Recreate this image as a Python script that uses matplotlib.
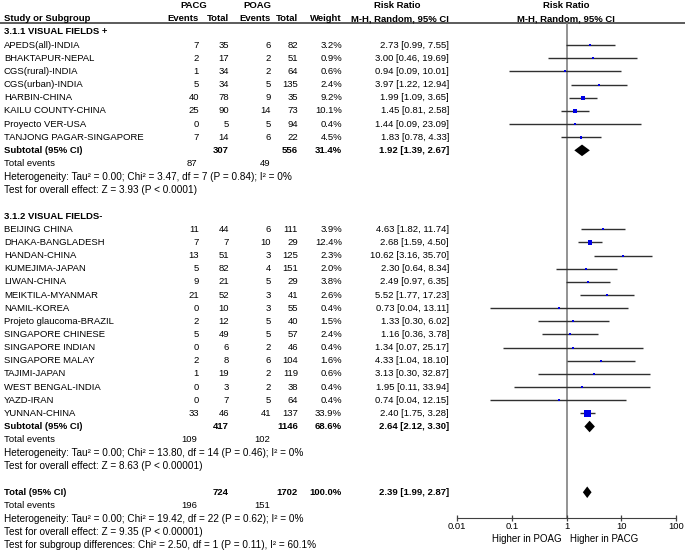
import numpy as np
import matplotlib.pyplot as plt
from matplotlib.ticker import FixedLocator, FixedFormatter

plt.rcParams['font.family'] = ['Liberation Sans', 'DejaVu Sans']
plt.rcParams['font.size'] = 6.8

# subgroup 3.1.1 VISUAL FIELDS +
names1 = ["APEDS(all)-INDIA", "BHAKTAPUR-NEPAL", "CGS(rural)-INDIA", "CGS(urban)-INDIA",
          "HARBIN-CHINA", "KAILU COUNTY-CHINA", "Proyecto VER-USA", "TANJONG PAGAR-SINGAPORE"]
pacg_ev1 = [7, 2, 1, 5, 40, 25, 0, 7]
pacg_n1 = [35, 17, 34, 34, 78, 90, 5, 14]
poag_ev1 = [6, 2, 2, 5, 9, 14, 5, 6]
poag_n1 = [82, 51, 64, 135, 35, 73, 94, 22]
weight1 = [3.2, 0.9, 0.6, 2.4, 9.2, 10.1, 0.4, 4.5]
rr1 = [2.73, 3.00, 0.94, 3.97, 1.99, 1.45, 1.44, 1.83]
lo1 = [0.99, 0.46, 0.09, 1.22, 1.09, 0.81, 0.09, 0.78]
hi1 = [7.55, 19.69, 10.01, 12.94, 3.65, 2.58, 23.09, 4.33]

# subgroup 3.1.2 VISUAL FIELDS-
names2 = ["BEIJING CHINA", "DHAKA-BANGLADESH", "HANDAN-CHINA", "KUMEJIMA-JAPAN", "LIWAN-CHINA",
          "MEIKTILA-MYANMAR", "NAMIL-KOREA", "Projeto glaucoma-BRAZIL", "SINGAPORE CHINESE",
          "SINGAPORE INDIAN", "SINGAPORE MALAY", "TAJIMI-JAPAN", "WEST BENGAL-INDIA",
          "YAZD-IRAN", "YUNNAN-CHINA"]
pacg_ev2 = [11, 7, 13, 5, 9, 21, 0, 2, 5, 0, 2, 1, 0, 0, 33]
pacg_n2 = [44, 7, 51, 82, 21, 52, 10, 12, 49, 6, 8, 19, 3, 7, 46]
poag_ev2 = [6, 10, 3, 4, 5, 3, 3, 5, 5, 2, 6, 2, 2, 5, 41]
poag_n2 = [111, 29, 125, 151, 29, 41, 55, 40, 57, 46, 104, 119, 38, 64, 137]
weight2 = [3.9, 12.4, 2.3, 2.0, 3.8, 2.6, 0.4, 1.5, 2.4, 0.4, 1.6, 0.6, 0.4, 0.4, 33.9]
rr2 = [4.63, 2.68, 10.62, 2.30, 2.49, 5.52, 0.73, 1.33, 1.16, 1.34, 4.33, 3.13, 1.95, 0.74, 2.40]
lo2 = [1.82, 1.59, 3.16, 0.64, 0.97, 1.77, 0.04, 0.30, 0.36, 0.07, 1.04, 0.30, 0.11, 0.04, 1.75]
hi2 = [11.74, 4.50, 35.70, 8.34, 6.35, 17.23, 13.11, 6.02, 3.78, 25.17, 18.10, 32.87, 33.94, 12.15, 3.28]

# subtotals / total: (pacg total, poag total, weight, rr, lo, hi, pacg events, poag events)
sub1 = (307, 556, 31.4, 1.92, 1.39, 2.67, 87, 49)
sub2 = (417, 1146, 68.6, 2.64, 2.12, 3.30, 109, 102)
total = (724, 1702, 100.0, 2.39, 1.99, 2.87, 196, 151)

het1 = ["Heterogeneity: Tau\u00b2 = 0.00; Chi\u00b2 = 3.47, df = 7 (P = 0.84); I\u00b2 = 0%",
        "Test for overall effect: Z = 3.93 (P < 0.0001)"]
het2 = ["Heterogeneity: Tau\u00b2 = 0.00; Chi\u00b2 = 13.80, df = 14 (P = 0.46); I\u00b2 = 0%",
        "Test for overall effect: Z = 8.63 (P < 0.00001)"]
het_tot = ["Heterogeneity: Tau\u00b2 = 0.00; Chi\u00b2 = 19.42, df = 22 (P = 0.62); I\u00b2 = 0%",
           "Test for overall effect: Z = 9.35 (P < 0.00001)",
           "Test for subgroup differences: Chi\u00b2 = 2.50, df = 1 (P = 0.11), I\u00b2 = 60.1%"]

xticks = [0.01, 0.1, 1, 10, 100]
xticklabels = ["0.01", "0.1", "1", "10", "100"]

W, H = 685, 551
ROW_H = 13.15
ROW0 = 5.7
AXIS_Y = 518
NOTE_SIZE = 7.2

fig = plt.figure(figsize=(W / 100, H / 100), dpi=100)
ax = fig.add_axes([0, 0, 1, 1])
ax.set_xlim(0, W)
ax.set_ylim((H - ROW0) / ROW_H, -ROW0 / ROW_H)
ax.axis('off')

fx0, fx1 = 457, 676
axf = fig.add_axes([fx0 / W, (H - AXIS_Y) / H, (fx1 - fx0) / W, AXIS_Y / H])
axf.set_xscale('log')
axf.set_xlim(0.01, 100)
axf.set_ylim((AXIS_Y - ROW0) / ROW_H, -ROW0 / ROW_H)
axf.patch.set_alpha(0)
for s in ['top', 'left', 'right']:
    axf.spines[s].set_visible(False)
axf.spines['bottom'].set_color('#404040')
axf.set_yticks([])
axf.xaxis.set_major_locator(FixedLocator(xticks))
axf.xaxis.set_major_formatter(FixedFormatter(xticklabels))
axf.xaxis.set_minor_locator(FixedLocator([]))
axf.tick_params(axis='x', direction='inout', length=5, width=0.9, color='#404040',
                pad=0.5, labelsize=6.8)

# column right edges
X_NAME = 4
X_EV1, X_N1, X_EV2, X_N2, X_W, X_RR = 199, 229, 271, 298, 342, 449

# headers
ax.text(194, 0, "PACG", ha='center', va='center', fontweight='bold')
ax.text(257, 0, "POAG", ha='center', va='center', fontweight='bold')
ax.text(397, 0, "Risk Ratio", ha='center', va='center', fontweight='bold')
ax.text(566, 0, "Risk Ratio", ha='center', va='center', fontweight='bold')
ax.text(X_NAME, 1, "Study or Subgroup", ha='left', va='center', fontweight='bold')
for x, t in [(X_EV1, "Events"), (X_N1, "Total"), (X_EV2, "Events"), (X_N2, "Total"),
             (X_W, "Weight"), (X_RR, "M-H, Random, 95% CI")]:
    ax.text(x, 1, t, ha='right', va='center', fontweight='bold')
ax.text(566, 1, "M-H, Random, 95% CI", ha='center', va='center', fontweight='bold')
ax.axhline((23 - ROW0) / ROW_H, color='#404040', lw=1.2)


def study_rows(start, names, e1, n1, e2, n2, w, rr, lo, hi):
    rows = np.arange(start, start + len(names))
    for r, nm, a, b, c, d, ww, m, l, h in zip(rows, names, e1, n1, e2, n2, w, rr, lo, hi):
        ax.text(X_NAME, r, nm, ha='left', va='center')
        ax.text(X_EV1, r, str(a), ha='right', va='center')
        ax.text(X_N1, r, str(b), ha='right', va='center')
        ax.text(X_EV2, r, str(c), ha='right', va='center')
        ax.text(X_N2, r, str(d), ha='right', va='center')
        ax.text(X_W, r, f"{ww:.1f}%", ha='right', va='center')
        ax.text(X_RR, r, f"{m:.2f} [{l:.2f}, {h:.2f}]", ha='right', va='center')
    axf.hlines(rows, lo, hi, color='#303030', lw=1.0, zorder=2)
    sizes = np.maximum(0.9 * np.sqrt(np.array(w)), 1.4) ** 2
    axf.scatter(rr, rows, marker='s', s=sizes, color='#0000e6', linewidths=0, zorder=3)
    return rows[-1] + 1


def summary_row(r, label, vals):
    n1, n2, w, m, l, h, e1, e2 = vals
    ax.text(X_NAME, r, label, ha='left', va='center', fontweight='bold')
    ax.text(X_N1, r, str(n1), ha='right', va='center', fontweight='bold')
    ax.text(X_N2, r, str(n2), ha='right', va='center', fontweight='bold')
    ax.text(X_W, r, f"{w:.1f}%", ha='right', va='center', fontweight='bold')
    ax.text(X_RR, r, f"{m:.2f} [{l:.2f}, {h:.2f}]", ha='right', va='center', fontweight='bold')
    dh = 0.44
    axf.fill([l, m, h, m], [r, r - dh, r, r + dh], color='black', lw=0, zorder=3)
    ax.text(X_NAME, r + 1, "Total events", ha='left', va='center')
    ax.text(X_EV1 - 2, r + 1, str(e1), ha='right', va='center')
    ax.text(X_EV2 - 1, r + 1, str(e2), ha='right', va='center')


r = 2
ax.text(X_NAME, r, "3.1.1 VISUAL FIELDS +", ha='left', va='center', fontweight='bold')
r = study_rows(r + 1, names1, pacg_ev1, pacg_n1, poag_ev1, poag_n1, weight1, rr1, lo1, hi1)
summary_row(r, "Subtotal (95% CI)", sub1)
for i, t in enumerate(het1):
    ax.text(X_NAME, r + 2 + i, t, ha='left', va='center', fontsize=NOTE_SIZE)
r += 2 + len(het1) + 1

ax.text(X_NAME, r, "3.1.2 VISUAL FIELDS-", ha='left', va='center', fontweight='bold')
r = study_rows(r + 1, names2, pacg_ev2, pacg_n2, poag_ev2, poag_n2, weight2, rr2, lo2, hi2)
summary_row(r, "Subtotal (95% CI)", sub2)
for i, t in enumerate(het2):
    ax.text(X_NAME, r + 2 + i, t, ha='left', va='center', fontsize=NOTE_SIZE)
r += 2 + len(het2) + 1

summary_row(r, "Total (95% CI)", total)
for i, t in enumerate(het_tot):
    ax.text(X_NAME, r + 2 + i, t, ha='left', va='center', fontsize=NOTE_SIZE)

# line of no effect
axf.vlines(1, (23 - ROW0) / ROW_H, (AXIS_Y - ROW0) / ROW_H, color='#808080', lw=1.2, zorder=1)

ylab = (539.5 - ROW0) / ROW_H
ax.text(562, ylab, "Higher in POAG", ha='right', va='center', fontsize=7.0)
ax.text(570, ylab, "Higher in PACG", ha='left', va='center', fontsize=7.0)

fig.savefig("out.png", dpi=100)
